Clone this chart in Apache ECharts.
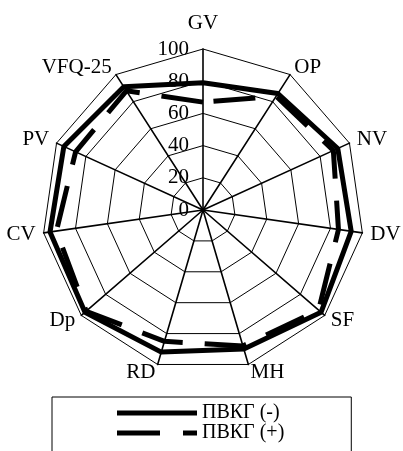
<!DOCTYPE html>
<html>
<head>
<meta charset="utf-8">
<script src="https://cdn.jsdelivr.net/npm/echarts@6/dist/echarts.min.js"></script>
<style>
  html, body { margin: 0; padding: 0; background: #fff; }
  #chart { width: 403px; height: 451px; }
</style>
</head>
<body>
<div id="chart"></div>
<script>
// axes, clockwise from the top
const categories = ['GV', 'OP', 'NV', 'DV', 'SF', 'MH', 'RD', 'Dp', 'CV', 'PV', 'VFQ-25'];
const seriesNames = ['ПВКГ (-)', 'ПВКГ (+)'];
const valuesMinus = [79, 86, 92, 93, 97, 90, 92, 97, 96, 95, 91];
const valuesPlus = [67, 84, 89, 85, 95, 88, 85, 96, 92, 87, 88];
const axisMax = 100;

const FONT = 'Liberation Serif';

// echarts lays indicators out counter-clockwise, so flip the order after the first
const order = [0].concat(categories.map((c, i) => i).slice(1).reverse());
const reorder = arr => order.map(i => arr[i]);

const indicator = reorder(categories).map((name, i) => {
    const ind = { name: name, min: 0, max: axisMax };
    if (i === 0) {
        ind.axisLabel = { show: true };
        ind.nameGap = 15;
    }
    return ind;
});

const chart = echarts.init(document.getElementById('chart'));
chart.setOption({
    animation: false,
    textStyle: { fontFamily: FONT, color: '#000' },
    radar: {
        center: [203, 210],
        radius: 161,
        startAngle: 90,
        splitNumber: 5,
        shape: 'polygon',
        indicator: indicator,
        nameGap: 8,
        axisName: { color: '#000', fontFamily: FONT, fontSize: 21 },
        axisLine: { lineStyle: { color: '#000', width: 1.6 } },
        splitLine: { lineStyle: { color: '#000', width: 1 } },
        splitArea: { show: false },
        axisTick: { show: false },
        axisLabel: { show: false, color: '#000', fontFamily: FONT, fontSize: 21, margin: 14 }
    },
    legend: {
        orient: 'vertical',
        left: 52,
        top: 397,
        height: 40,
        padding: [6, 67, 40, 65],
        borderColor: '#000',
        borderWidth: 1,
        itemGap: 0,
        itemWidth: 80,
        itemHeight: 5,
        textStyle: { fontFamily: FONT, fontSize: 20, color: '#000', lineHeight: 18 },
        data: [
            { name: seriesNames[0], icon: 'path://M0,0H80V5H0Z' },
            { name: seriesNames[1], icon: 'path://M0,0H43V5H0Z M66,0H80V5H66Z' }
        ]
    },
    series: [{
        type: 'radar',
        symbol: 'none',
        data: [
            {
                name: seriesNames[0],
                value: reorder(valuesMinus),
                lineStyle: { color: '#000', width: 5, type: 'solid' },
                itemStyle: { color: '#000' }
            },
            {
                name: seriesNames[1],
                value: reorder(valuesPlus),
                lineStyle: { color: '#000', width: 5, type: [42, 22] },
                itemStyle: { color: '#000' }
            }
        ]
    }]
});
</script>
</body>
</html>
